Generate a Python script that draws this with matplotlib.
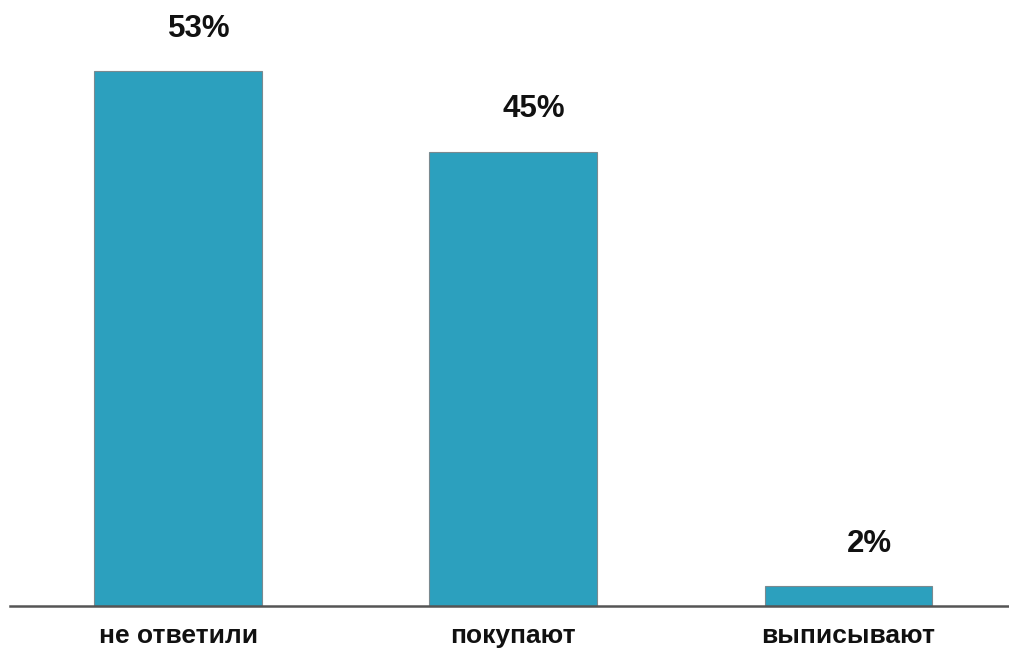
import matplotlib.pyplot as plt

categories = ['не ответили', 'покупают', 'выписывают']
values = [53, 45, 2]
labels = ['53%', '45%', '2%']

plt.rcParams['font.family'] = ['Liberation Sans', 'DejaVu Sans']

fig = plt.figure(figsize=(10.09, 6.49), dpi=100)
ax = fig.add_axes([10 / 1009, 43 / 649, 999 / 1009, 606 / 649])

x = range(len(categories))
ax.bar(x, values, width=0.5, color='#2ca0be', edgecolor='#7a8a90', linewidth=0.8, zorder=2)

# value labels sit a bit right of the bar centre, as in the original
for i, v in enumerate(values):
    ax.annotate(labels[i], (i, v), xytext=(15, 19.5), textcoords='offset points',
                ha='center', va='bottom', fontsize=22.5, fontweight='bold', color='#111111')

ax.set_xlim(-0.5015, 2.479)
ax.set_ylim(0, 60)
ax.set_xticks(list(x))
ax.set_xticklabels(categories, fontsize=19, fontweight='bold', color='#111111')
ax.tick_params(axis='x', length=0, pad=13)
ax.set_yticks([])
for s in ['top', 'right', 'left']:
    ax.spines[s].set_visible(False)
ax.spines['bottom'].set_color('#555555')
ax.spines['bottom'].set_linewidth(1.8)

fig.savefig('out.png', dpi=100)
